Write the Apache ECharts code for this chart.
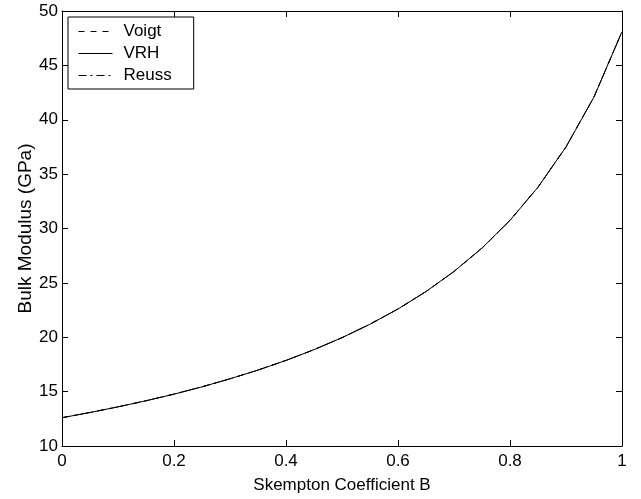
<!DOCTYPE html>
<html><head><meta charset="utf-8">
<script src="https://cdn.jsdelivr.net/npm/echarts@6/dist/echarts.min.js"></script>
<style>html,body{margin:0;padding:0;background:#fff}#c{width:641px;height:499px}</style>
</head><body><div id="c"></div>
<script>
const bValues = [0,0.05,0.1,0.15,0.2,0.25,0.3,0.35,0.4,0.45,0.5,0.55,0.6,0.65,0.7,0.75,0.8,0.85,0.9,0.95,1.0];
const voigt = [12.6,13.08,13.6,14.16,14.77,15.44,16.18,16.98,17.87,18.86,19.96,21.2,22.6,24.2,26.05,28.2,30.75,33.8,37.5,42.1,48.1];
const vrh   = [12.6,13.08,13.6,14.16,14.77,15.44,16.18,16.98,17.87,18.86,19.96,21.2,22.6,24.2,26.05,28.2,30.75,33.8,37.5,42.1,48.1];
const reuss = [12.6,13.08,13.6,14.16,14.77,15.44,16.18,16.98,17.87,18.86,19.96,21.2,22.6,24.2,26.05,28.2,30.75,33.8,37.5,42.1,48.1];
const seriesNames = ['Voigt','VRH','Reuss'];
const xTitle = 'Skempton Coefficient B';
const yTitle = 'Bulk Modulus (GPa)';

const font = 'Liberation Sans, Arial, Helvetica, sans-serif';
const pair = (xs, ys) => xs.map((x, i) => [x, ys[i]]);
const axisCommon = {
  axisLine: {show: true, onZero: false, lineStyle: {color: '#000', width: 1}},
  axisTick: {show: true, inside: true, length: 6, lineStyle: {color: '#000', width: 1}},
  splitLine: {show: false}
};
const chart = echarts.init(document.getElementById('c'));
chart.setOption({
  animation: false,
  backgroundColor: '#fff',
  grid: {left: 62, top: 11, right: 19, bottom: 48, show: false},
  legend: {
    orient: 'vertical', left: 68, top: 17,
    backgroundColor: '#fff', borderColor: '#000', borderWidth: 1, borderRadius: 0,
    padding: [6, 22, 5, 10], itemGap: 5, itemWidth: 34, itemHeight: 15,
    itemStyle: {color: 'rgba(0,0,0,0)', borderWidth: 0, opacity: 0},
    lineStyle: {width: 1},
    textStyle: {fontFamily: font, fontSize: 17, color: '#000', padding: [0, 0, 0, 6]},
    data: seriesNames
  },
  xAxis: [
    Object.assign({type: 'value', min: 0, max: 1, interval: 0.2, position: 'bottom',
      name: xTitle, nameLocation: 'middle', nameGap: 31, nameMoveOverlap: false,
      nameTextStyle: {fontFamily: font, fontSize: 17, color: '#000'},
      axisLabel: {fontFamily: font, fontSize: 17, color: '#000', margin: 7,
        formatter: v => String(Math.round(v * 10) / 10)}}, axisCommon),
    Object.assign({type: 'value', min: 0, max: 1, interval: 0.2, position: 'top',
      axisLabel: {show: false}}, axisCommon)
  ],
  yAxis: [
    Object.assign({type: 'value', min: 10, max: 50, interval: 5, position: 'left',
      name: yTitle, nameLocation: 'middle', nameGap: 27, nameMoveOverlap: false,
      nameTextStyle: {fontFamily: font, fontSize: 19, color: '#000'},
      axisLabel: {fontFamily: font, fontSize: 17, color: '#000', margin: 4}}, axisCommon),
    Object.assign({type: 'value', min: 10, max: 50, interval: 5, position: 'right',
      axisLabel: {show: false}}, axisCommon)
  ],
  series: [
    {name: seriesNames[0], type: 'line', data: pair(bValues, voigt), showSymbol: false, symbol: 'none',
      lineStyle: {color: '#000', width: 1, type: [6, 6]}, itemStyle: {color: '#000'}},
    {name: seriesNames[1], type: 'line', data: pair(bValues, vrh), showSymbol: false, symbol: 'none',
      lineStyle: {color: '#000', width: 1, type: 'solid'}, itemStyle: {color: '#000'}},
    {name: seriesNames[2], type: 'line', data: pair(bValues, reuss), showSymbol: false, symbol: 'none',
      lineStyle: {color: '#000', width: 1, type: [8, 4, 2, 4]}, itemStyle: {color: '#000'}}
  ]
});
</script></body></html>
